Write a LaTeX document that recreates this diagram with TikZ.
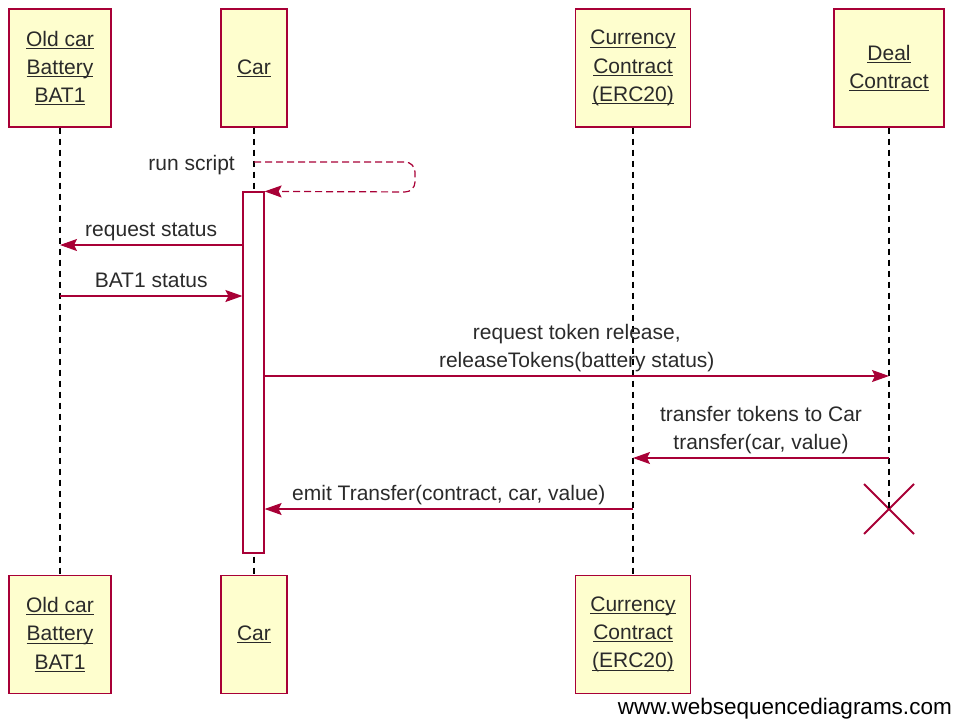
\documentclass[tikz,border=0pt]{standalone}
\usepackage{fontspec}
\setmainfont{Liberation Sans}
\usetikzlibrary{arrows.meta,shapes.misc}

\definecolor{seqred}{HTML}{A80036}
\definecolor{seqfill}{HTML}{FEFECE}
\definecolor{seqtext}{HTML}{2A2A2A}

% underlined participant name, rule kept at a fixed depth
\newcommand\pname[1]{\setbox0\hbox{#1}\rlap{\rule[-2.6pt]{\wd0}{0.9pt}}\box0}

\tikzset{
  actor/.style={draw=seqred, fill=seqfill, line width=1.4pt, inner sep=0pt,
    minimum width=#1, minimum height=118pt, align=center, text=seqtext,
    font=\fontsize{21}{28.3}\selectfont},
  lifeline/.style={draw=black, line width=1.1pt, dash pattern=on 6pt off 5pt},
  activation/.style={draw=seqred, fill=white, line width=1.2pt, inner sep=0pt,
    minimum width=21pt, minimum height=361pt},
  msg/.style={draw=seqred, line width=1.2pt,
    -{Stealth[length=17pt,width=12pt,inset=3pt]}},
  selfmsg/.style={msg, dash pattern=on 7pt off 4pt, rounded corners=10pt},
  lbl/.style={text=seqtext, font=\fontsize{21}{27.5}\selectfont, align=center,
    inner sep=0pt, text depth=4pt},
  destroy/.style={cross out, draw=seqred, line width=2pt, inner sep=0pt,
    minimum size=48pt},
}

\begin{document}
\begin{tikzpicture}[x=1pt,y=-1pt]
\useasboundingbox (0,0) rectangle (956,718);

% participants, top row
\node[actor=102pt] (bat)  at (60,68)  {\pname{Old car}\\\pname{Battery}\\\pname{BAT1}};
\node[actor=66pt]  (car)  at (254,68) {\pname{Car}};
\node[actor=115pt] (cur)  at (633,68) {\pname{Currency}\\\pname{Contract}\\\pname{(ERC20)}};
\node[actor=110pt] (deal) at (889,68) {\pname{Deal}\\\pname{Contract}};

% participants, bottom row
\node[actor=102pt] (batB) at (60,634.5)  {\pname{Old car}\\\pname{Battery}\\\pname{BAT1}};
\node[actor=66pt]  (carB) at (254,634.5) {\pname{Car}};
\node[actor=115pt] (curB) at (633,634.5) {\pname{Currency}\\\pname{Contract}\\\pname{(ERC20)}};

% destruction of the deal contract
\node[destroy] (dx) at (889,509) {};

% lifelines
\draw[lifeline] (bat.south) -- (batB.north);
\draw[lifeline] (car.south) -- (carB.north);
\draw[lifeline] (cur.south) -- (curB.north);
\draw[lifeline] (deal.south) -- (dx.center);

% activation of the car
\node[activation] (act) at (253.5,372.5) {};

% message rows
\coordinate (r0) at (0,162);
\coordinate (r0b) at (0,192);
\coordinate (r1) at (0,245);
\coordinate (r2) at (0,296);
\coordinate (r3) at (0,376);
\coordinate (r4) at (0,458);
\coordinate (r5) at (0,509);
\coordinate (loop) at (415,0);

% self call
\draw[selfmsg] (car |- r0) -| (loop |- r0b) -- (act.north east);
\node[lbl, anchor=base east] (rs) at (235,170) {run script};

\draw[msg] (act.west |- r1) -- node[lbl, above=4pt] {request status} (bat |- r1);
\draw[msg] (bat |- r2) -- node[lbl, above=4pt] {BAT1 status} (act.west |- r2);
\draw[msg] (act.east |- r3) -- node[lbl, above=4pt]
  {request token release,\\releaseTokens(battery status)} (deal |- r3);
\draw[msg] (deal |- r4) -- node[lbl, above=4pt]
  {transfer tokens to Car\\transfer(car, value)} (cur |- r4);
\draw[msg] (cur |- r5) -- node[lbl, above=4pt]
  {emit Transfer(contract, car, value)} (act.east |- r5);

% footer
\node[anchor=base east, inner sep=0pt, text=black,
  font=\fontsize{22.5}{26}\selectfont] (site) at (952,714) {www.websequencediagrams.com};
\end{tikzpicture}
\end{document}
